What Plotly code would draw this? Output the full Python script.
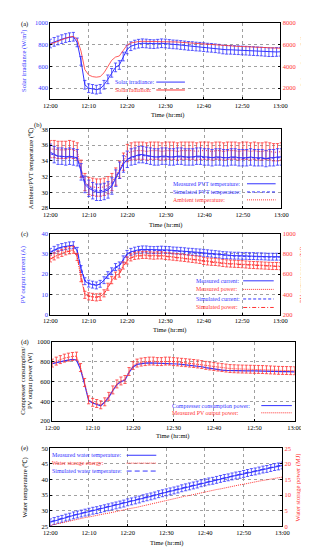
import plotly.graph_objects as go

# ---------------- data ----------------
MINUTES = list(range(61))            # 12:00 ... 13:00, one point per minute
TICK_MIN = [0, 10, 20, 30, 40, 50, 60]
TICK_TXT = ["12:00", "12:10", "12:20", "12:30", "12:40", "12:50", "13:00"]

# (a)
irr = [810, 825, 838, 850, 860, 868, 872, 820, 650, 430,
       398, 392, 385, 392, 430, 480, 540, 590, 612, 690,
       755, 785, 800, 808, 812, 810, 806, 804, 808, 812,
       810, 806, 802, 800, 796, 792, 788, 786, 782, 780,
       776, 772, 770, 766, 762, 755, 752, 752, 750, 748,
       746, 744, 742, 740, 738, 736, 733, 730, 730, 732, 734]
rad = [6050, 6150, 6300, 6450, 6600, 6700, 6750, 6500, 5400, 3700,
       3200, 3050, 3000, 3050, 3400, 3950, 4550, 4850, 4950, 5450,
       5950, 6150, 6250, 6280, 6300, 6300, 6290, 6280, 6290, 6300,
       6300, 6280, 6260, 6240, 6210, 6180, 6150, 6120, 6090, 6060,
       6030, 6000, 5970, 5950, 5920, 5880, 5860, 5850, 5840, 5830,
       5820, 5800, 5780, 5760, 5740, 5720, 5700, 5690, 5680, 5670, 5660]
IRR_ERR = 40

# (b)
pvt_meas = [35.1, 34.8, 34.6, 34.6, 34.5, 34.6, 34.5, 34.4, 32.6, 31.0,
            30.5, 30.2, 30.0, 30.0, 30.1, 30.3, 30.8, 31.8, 32.8, 33.6,
            34.2, 34.5, 34.6, 34.8, 34.8, 34.7, 34.6, 34.5, 34.5, 34.6,
            34.6, 34.5, 34.5, 34.6, 34.6, 34.5, 34.5, 34.5, 34.6, 34.6,
            34.5, 34.5, 34.4, 34.5, 34.5, 34.4, 34.4, 34.5, 34.5, 34.4,
            34.4, 34.4, 34.5, 34.4, 34.4, 34.4, 34.3, 34.4, 34.4, 34.5, 34.5]
pvt_sim = [34.9, 34.7, 34.6, 34.5, 34.5, 34.5, 34.5, 34.3, 32.9, 31.3,
           30.7, 30.4, 30.2, 30.2, 30.3, 30.5, 31.0, 31.9, 32.9, 33.7,
           34.2, 34.4, 34.6, 34.7, 34.7, 34.6, 34.6, 34.5, 34.5, 34.5,
           34.5, 34.5, 34.5, 34.5, 34.5, 34.5, 34.4, 34.5, 34.5, 34.5,
           34.4, 34.4, 34.4, 34.4, 34.4, 34.4, 34.4, 34.4, 34.4, 34.4,
           34.3, 34.4, 34.4, 34.4, 34.3, 34.3, 34.3, 34.3, 34.4, 34.4, 34.4]
amb = [35.5, 35.5, 35.4, 35.4, 35.4, 35.5, 35.4, 35.2, 33.0, 31.3,
       30.8, 30.7, 30.6, 30.6, 30.7, 30.9, 31.3, 32.0, 32.9, 33.9,
       35.0, 35.2, 35.3, 35.3, 35.3, 35.2, 35.3, 35.3, 35.3, 35.2,
       35.3, 35.3, 35.3, 35.2, 35.3, 35.3, 35.3, 35.3, 35.2, 35.3,
       35.3, 35.3, 35.2, 35.3, 35.3, 35.2, 35.3, 35.3, 35.3, 35.2,
       35.3, 35.3, 35.2, 35.3, 35.2, 35.2, 35.3, 35.2, 35.1, 35.1, 35.2]
PVT_ERR = 1.05
AMB_ERR = 1.1

# (c)
cur_meas = [31.0, 32.0, 32.8, 33.4, 33.8, 34.2, 34.3, 31.5, 22.5, 16.5,
            15.3, 14.8, 14.4, 15.2, 17.0, 19.5, 21.4, 23.5, 24.3, 27.3,
            30.0, 31.0, 31.6, 32.0, 32.2, 32.2, 32.0, 31.9, 32.0, 32.1,
            32.0, 31.9, 31.7, 31.6, 31.5, 31.3, 31.1, 31.0, 30.8, 30.7,
            30.5, 30.3, 30.1, 29.9, 29.7, 29.4, 29.3, 29.2, 29.1, 29.1,
            29.0, 29.0, 28.9, 28.9, 28.8, 28.8, 28.7, 28.6, 28.6, 28.6, 28.6]
cur_sim = [30.6, 31.6, 32.5, 33.1, 33.6, 34.0, 34.1, 31.8, 23.5, 17.0,
           15.6, 15.0, 14.6, 15.0, 16.8, 19.0, 21.0, 23.0, 24.0, 27.0,
           29.6, 30.7, 31.3, 31.7, 31.9, 31.9, 31.8, 31.7, 31.7, 31.8,
           31.7, 31.6, 31.5, 31.3, 31.2, 31.0, 30.9, 30.7, 30.6, 30.4,
           30.2, 30.0, 29.8, 29.7, 29.5, 29.2, 29.1, 29.0, 28.9, 28.9,
           28.8, 28.8, 28.7, 28.7, 28.6, 28.6, 28.5, 28.4, 28.4, 28.4, 28.4]
pow_meas = [755, 775, 795, 810, 825, 835, 840, 770, 560, 395,
            380, 375, 370, 375, 410, 475, 540, 585, 605, 685,
            735, 765, 780, 785, 790, 790, 785, 782, 785, 785,
            780, 776, 772, 768, 764, 760, 755, 750, 745, 740,
            730, 725, 722, 720, 716, 710, 706, 704, 702, 700,
            698, 695, 692, 690, 688, 686, 684, 682, 680, 680, 678]
pow_sim = [748, 768, 788, 803, 818, 828, 832, 775, 580, 405,
           385, 378, 374, 380, 405, 465, 530, 575, 598, 675,
           728, 758, 773, 779, 783, 783, 779, 776, 778, 779,
           775, 771, 767, 763, 759, 755, 750, 745, 740, 735,
           726, 721, 717, 714, 711, 706, 702, 700, 698, 696,
           694, 691, 688, 686, 684, 682, 680, 678, 676, 676, 674]
CUR_ERR = 1.7
POW_ERR = 35

# (d)
comp = [779, 790, 800, 808, 815, 822, 816, 723, 574, 410,
        383, 370, 354, 393, 443, 509, 568, 598, 614, 690,
        746, 772, 782, 785, 787, 786, 783, 781, 783, 784,
        780, 776, 772, 768, 764, 760, 755, 748, 740, 732,
        723, 718, 714, 711, 709, 707, 707, 706, 706, 707,
        707, 706, 705, 704, 703, 702, 701, 700, 699, 698, 697]
pv_pow = [785, 805, 820, 835, 845, 852, 855, 740, 590, 415,
          390, 378, 365, 395, 450, 515, 575, 605, 620, 700,
          760, 785, 795, 800, 805, 805, 800, 800, 805, 805,
          800, 797, 793, 789, 785, 781, 776, 770, 762, 756,
          750, 745, 740, 735, 730, 728, 726, 725, 724, 723,
          722, 721, 720, 718, 716, 714, 712, 711, 710, 709, 708]
PV_ERR = 40

# (e)
water_meas = [26.3, 26.7, 27.1, 27.4, 27.8, 28.1, 28.5, 28.8, 29.1, 29.4,
              29.7, 30.0, 30.2, 30.5, 30.8, 31.1, 31.4, 31.7, 32.0, 32.3,
              32.7, 33.0, 33.3, 33.6, 34.0, 34.3, 34.6, 34.9, 35.3, 35.6,
              35.9, 36.2, 36.5, 36.8, 37.2, 37.5, 37.8, 38.1, 38.4, 38.8,
              39.1, 39.4, 39.6, 39.9, 40.2, 40.5, 40.7, 41.0, 41.3, 41.5,
              41.8, 42.1, 42.4, 42.6, 42.9, 43.2, 43.4, 43.7, 44.0, 44.2, 44.5]
water_sim = [26.5, 26.9, 27.2, 27.6, 27.9, 28.3, 28.6, 28.9, 29.2, 29.5,
             29.8, 30.1, 30.4, 30.7, 31.0, 31.3, 31.6, 31.9, 32.2, 32.5,
             32.8, 33.1, 33.5, 33.8, 34.1, 34.4, 34.8, 35.1, 35.4, 35.7,
             36.0, 36.4, 36.7, 37.0, 37.3, 37.6, 37.9, 38.2, 38.6, 38.9,
             39.2, 39.5, 39.8, 40.1, 40.3, 40.6, 40.9, 41.2, 41.4, 41.7,
             42.0, 42.3, 42.5, 42.8, 43.1, 43.3, 43.6, 43.9, 44.1, 44.4, 44.7]
energy = [0.3, 0.6, 0.9, 1.2, 1.5, 1.8, 2.1, 2.3, 2.6, 2.8,
          3.0, 3.3, 3.5, 3.7, 4.0, 4.2, 4.5, 4.7, 5.0, 5.2,
          5.5, 5.8, 6.0, 6.3, 6.6, 6.9, 7.2, 7.4, 7.7, 8.0,
          8.3, 8.6, 8.8, 9.1, 9.4, 9.7, 9.9, 10.2, 10.5, 10.7,
          11.0, 11.3, 11.5, 11.8, 12.0, 12.3, 12.5, 12.8, 13.0, 13.3,
          13.5, 13.8, 14.0, 14.2, 14.5, 14.7, 14.9, 15.2, 15.4, 15.6, 15.8]
WATER_ERR = 1.1

# ---------------- styling ----------------
W, H = 309, 547
FONT = "Liberation Serif, Times New Roman, serif"
FS = 6.5
LFS = 5.9
BLUE = "#3333ff"
RED = "#ff3333"
BLACK = "#000000"


def px(x):
    return x / W


def py(y):
    return 1 - y / H


fig = go.Figure()


def err(v, c):
    return dict(type="constant", value=v, color=c, thickness=0.8, width=1.6)


def add(y, xa, ya, color, dash="solid", width=1.0, e=None):
    fig.add_trace(go.Scatter(
        x=MINUTES, y=y, xaxis=xa, yaxis=ya, mode="lines",
        line=dict(color=color, dash=dash, width=width),
        error_y=err(e, color) if e is not None else None,
        showlegend=False, hoverinfo="skip"))


DOT = "1px,1px"
DASH = "3px,2px"
LDASH = "5px,3px"
DASHDOT = "4px,2px,1px,2px"

# (a)
add(rad, "x", "y2", RED, width=0.8)
add(irr, "x", "y", BLUE, e=IRR_ERR)
# (b)
add(amb, "x2", "y3", RED, dash=DOT, e=AMB_ERR)
add(pvt_sim, "x2", "y3", BLUE, dash=DASH)
add(pvt_meas, "x2", "y3", BLUE, e=PVT_ERR)
# (c)
add(cur_sim, "x3", "y4", BLUE, dash=DASH)
add(cur_meas, "x3", "y4", BLUE, e=CUR_ERR)
add(pow_sim, "x3", "y5", RED, dash=DASHDOT)
add(pow_meas, "x3", "y5", RED, dash=DOT, e=POW_ERR)
# (d)
add(comp, "x4", "y6", BLUE, width=1.2)
add(pv_pow, "x4", "y6", RED, dash=DOT, e=PV_ERR)
# (e)
add(energy, "x5", "y8", RED, dash=DOT)
add(water_sim, "x5", "y7", BLUE, dash=LDASH)
add(water_meas, "x5", "y7", BLUE, e=WATER_ERR)


def xax(x0, x1, anchor):
    return dict(domain=[px(x0), px(x1)], anchor=anchor, range=[0, 60],
                tickvals=TICK_MIN, ticktext=TICK_TXT,
                showline=True, linecolor=BLACK, linewidth=1, mirror=True,
                ticks="inside", ticklen=2, tickcolor=BLACK,
                showgrid=True, gridcolor="#a0a0a0", griddash="dot", gridwidth=0.8,
                zeroline=False, tickfont=dict(family=FONT, size=FS, color=BLACK))


def yax(y0, y1, anchor, rng, tv, color=BLACK):
    return dict(domain=[py(y1), py(y0)], anchor=anchor, range=rng, tickvals=tv,
                showline=True, linecolor=BLACK, linewidth=1, mirror=True,
                ticks="inside", ticklen=2, tickcolor=BLACK,
                showgrid=True, gridcolor="#a0a0a0", griddash="dot", gridwidth=0.8,
                zeroline=False, tickfont=dict(family=FONT, size=FS, color=color))


def yright(over, anchor, rng, tv, color):
    return dict(overlaying=over, anchor=anchor, side="right", range=rng, tickvals=tv,
                showline=True, linecolor=BLACK, linewidth=1,
                ticks="inside", ticklen=2, tickcolor=BLACK, showgrid=False,
                zeroline=False, tickfont=dict(family=FONT, size=FS, color=color))


PA = (37, 278, 11, 88)
PB = (37, 279, 119, 198.5)
PC = (37, 278, 224.5, 306.5)
PD = (39, 293, 334, 414.5)
PE = (37, 280, 442, 521)

fig.update_layout(
    width=W, height=H, autosize=False,
    margin=dict(l=0, r=0, t=0, b=0),
    paper_bgcolor="white", plot_bgcolor="white",
    font=dict(family=FONT, size=FS, color=BLACK),
    showlegend=False,
    xaxis=xax(PA[0], PA[1], "y"),
    yaxis=yax(PA[2], PA[3], "x", [300, 1000], [400, 600, 800, 1000], BLUE),
    yaxis2=yright("y", "x", [1000, 8000], [2000, 4000, 6000, 8000], RED),
    xaxis2=xax(PB[0], PB[1], "y3"),
    yaxis3=yax(PB[2], PB[3], "x2", [28, 38], [28, 30, 32, 34, 36, 38]),
    xaxis3=xax(PC[0], PC[1], "y4"),
    yaxis4=yax(PC[2], PC[3], "x3", [0, 40], [0, 10, 20, 30, 40], BLUE),
    yaxis5=yright("y4", "x3", [200, 1000], [200, 400, 600, 800, 1000], RED),
    xaxis4=xax(PD[0], PD[1], "y6"),
    yaxis6=yax(PD[2], PD[3], "x4", [200, 1000], [200, 400, 600, 800, 1000]),
    xaxis5=xax(PE[0], PE[1], "y7"),
    yaxis7=yax(PE[2], PE[3], "x5", [25, 50], [25, 30, 35, 40, 45, 50]),
    yaxis8=yright("y7", "x5", [0, 25], [0, 5, 10, 15, 20, 25], RED),
)

ann = []


def text(x, y, s, color=BLACK, angle=0, xanchor="center", size=FS):
    ann.append(dict(x=px(x), y=py(y), xref="paper", yref="paper", text=s,
                    showarrow=False, textangle=angle, xanchor=xanchor, yanchor="middle",
                    font=dict(family=FONT, size=size, color=color)))


# panel labels
text(10, 12, "(a)")
text(24, 114, "(b)")
text(10, 225, "(c)")
text(10, 334, "(d)")
text(10, 442, "(e)")

# x titles
for yy, xx in [(104, 160), (216, 158), (322, 162), (429, 166), (538, 159)]:
    text(xx, yy, "Time (hr:mi)")

# y titles
text(10, 50, "Solar irradiance (W/m²)", BLUE, -90)
text(302, 50, "Solar radiation (W)", RED, -90)
text(17, 159, "Ambient/PVT temperature (℃)", BLACK, -90)
text(8, 266, "PV output current (A)", BLUE, -90)
text(300, 266, "PV output power (W)", RED, -90)
text(8, 374, "Compresser consumption/", BLACK, -90)
text(15.5, 374, "PV output power (W)", BLACK, -90)
text(10, 482, "Water temperature (℃)", BLACK, -90)
text(296, 482, "Water storage power (MJ)", RED, -90)

# custom legends (text followed by line sample)
shapes = []


def leg(x_text, y, label, color, lx0, lx1, dash="solid"):
    text(x_text, y, label, color, 0, "left", LFS)
    shapes.append(dict(type="line", xref="paper", yref="paper",
                       x0=px(lx0), x1=px(lx1), y0=py(y), y1=py(y),
                       line=dict(color=color, width=1, dash=dash)))


leg(103, 71, "Solar irradiance:", BLUE, 148, 178)
leg(103, 79, "Solar radiation:", RED, 148, 178)

leg(163, 174, "Measured PVT temperature:", BLUE, 243, 273)
leg(163, 182.3, "Simulated PVT temperature:", BLUE, 243, 273, DASH)
leg(163, 190.3, "Ambient temperature:", RED, 243, 273, DOT)

leg(187, 272.3, "Measured current:", BLUE, 239, 271)
leg(187, 281, "Measured power:", RED, 239, 271, DOT)
leg(187, 290.7, "Simulated current:", BLUE, 239, 271, DASH)
leg(187, 299.3, "Simulated power:", RED, 239, 271, DASHDOT)

leg(162, 398.7, "Compresser consumption power:", BLUE, 258, 290)
leg(162, 406, "Measured PV output power:", RED, 258, 290, DOT)

leg(37, 449, "Measured water temperature:", BLUE, 117, 148)
leg(37, 457, "Water storage energy:", RED, 117, 148, DOT)
leg(37, 465, "Simulated water temperature:", BLUE, 117, 148, LDASH)

fig.update_layout(annotations=ann, shapes=shapes)

fig.write_html("out.html")
